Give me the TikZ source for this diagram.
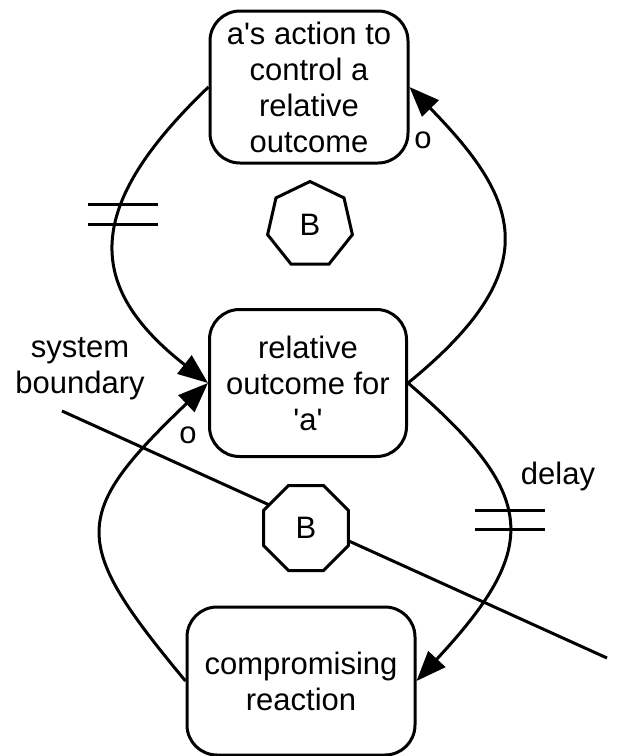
\documentclass[tikz,border=0pt]{standalone}
\usepackage{fontspec}
\setmainfont{Liberation Sans}
\usetikzlibrary{arrows.meta}
\usetikzlibrary{shapes.geometric}

\begin{document}
\begin{tikzpicture}[x=1pt, y=-1pt, line width=3pt, >={Triangle[length=30pt,width=23pt]},
  box/.style={draw, rounded corners=30pt, align=center, inner sep=0pt, font=\fontsize{31}{36}\selectfont},
  loopsign/.style={draw, fill=white, regular polygon, inner sep=0pt, font=\fontsize{31}{36}\selectfont},
  lbl/.style={font=\fontsize{31}{36}\selectfont, align=center}]
\useasboundingbox (0,0) rectangle (634,756);

\node [box, minimum width=198pt, minimum height=152pt] (action) at (309,87) {a\textquotesingle s action to\\control a\\relative\\outcome};
\node [box, minimum width=197pt, minimum height=147pt] (outcome) at (308,383) {relative\\outcome for\\\textquotesingle a\textquotesingle};
\node [box, minimum width=228pt, minimum height=148pt] (reaction) at (301,681) {compromising\\reaction};

% loops
\draw [->] (action.west) .. controls (84,206) and (84,286) .. (outcome.west);
\draw [->] (outcome.east) .. controls (548,269) and (520,200) .. (action.east);
\draw [->] (outcome.east) .. controls (540,496) and (540,548) .. (reaction.east);
\draw [->] (reaction.west) .. controls (70,542) and (70,515) .. (outcome.west);

% delay marks
\draw (88,204) -- (158,204);
\draw (88,224) -- (158,224);
\draw (475,510) -- (545,510);
\draw (475,529) -- (545,529);

% system boundary
\coordinate (sb1) at (62,411);
\coordinate (sb2) at (607,658);
\draw (sb1) -- (sb2);

\node [loopsign, regular polygon sides=7, minimum size=87pt] (b1) at (310,225) {B};
\node [loopsign, regular polygon sides=8, minimum size=92pt] (b2) at (306,528) {B};

\node [lbl] (o1) at (423,140) {o};
\node [lbl] (o2) at (188,435) {o};
\node [lbl] (delay) at (558,476) {delay};
\node [lbl] (boundary) at (80,369) {system\\boundary};
\end{tikzpicture}
\end{document}
